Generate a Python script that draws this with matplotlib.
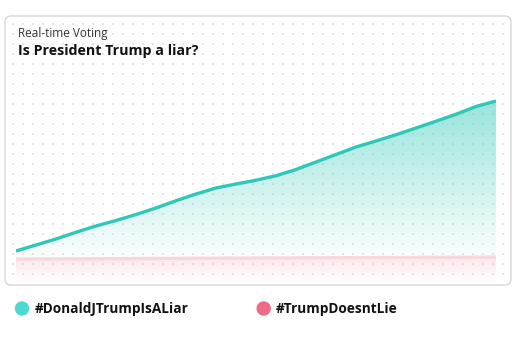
import numpy as np
import matplotlib
matplotlib.use("Agg")
import matplotlib.pyplot as plt
from matplotlib.patches import FancyBboxPatch, Circle
from matplotlib.colors import to_rgb

# ---- data ----
steps = list(range(25))
liar_votes = [1320, 1560, 1800, 2070, 2320, 2540, 2780, 3040, 3330, 3600, 3840, 4000, 4150,
              4330, 4580, 4880, 5180, 5480, 5720, 5970, 6240, 6510, 6790, 7100, 7320]
notliar_votes = [1000, 1004, 1007, 1010, 1012, 1016, 1020, 1023, 1026, 1030, 1032, 1036, 1040,
                 1043, 1046, 1050, 1053, 1056, 1060, 1062, 1066, 1070, 1073, 1076, 1080]
series_names = ["#DonaldJTrumpIsALiar", "#TrumpDoesntLie"]
subtitle = "Real-time Voting"
title = "Is President Trump a liar?"
y_max = 10000

teal_line = "#2ec8b8"
teal_dot = "#4fd8cf"
pink_line = "#f9d6dc"
pink_dot = "#ee6b87"

W, H = 519, 359
fig = plt.figure(figsize=(W / 100, H / 100), dpi=100)
fig.patch.set_facecolor("white")

# background axes in pixel coordinates
bg = fig.add_axes([0, 0, 1, 1], zorder=0)
bg.set_xlim(0, W)
bg.set_ylim(H, 0)
bg.axis("off")

card = FancyBboxPatch((5, 16), 506, 269, boxstyle="round,pad=0,rounding_size=6",
                      facecolor="white", edgecolor="#d6d6d6", linewidth=1.0)
bg.add_patch(card)

gx = np.arange(12.7, 505, 10)
gy = np.arange(24.3, 280, 10)
GX, GY = np.meshgrid(gx, gy)
bg.scatter(GX.ravel(), GY.ravel(), marker="s", s=2.0, color="#e6e6e6", linewidths=0)

bg.text(18, 37.5, subtitle, fontsize=8.5, family="Open Sans", color="#333333", va="baseline")
bg.text(18, 55, title, fontsize=10.3, family="Open Sans", weight="bold", color="#111111",
        va="baseline")

# legend
leg_x = [22, 263.7]
leg_cols = [teal_dot, pink_dot]
for x0, name, col in zip(leg_x, series_names, leg_cols):
    bg.add_patch(Circle((x0, 308.5), 7.2, facecolor=col, edgecolor="none"))
    bg.text(x0 + 12.3, 312.5, name, fontsize=9.8, family="Open Sans", weight="bold",
            color="#111111", va="baseline")

# main chart axes
ax = fig.add_axes([16 / W, (H - 284) / H, 480 / W, 250 / H], zorder=2)
ax.patch.set_alpha(0)
ax.set_xlim(steps[0], steps[-1])
ax.set_ylim(0, y_max)
ax.axis("off")

x = np.array(steps)
liar = np.array(liar_votes)
notliar = np.array(notliar_votes)

def gradient_fill(ax, x, ylow, yhigh, color, a_top, a_bot, y_top, y_bot):
    poly = ax.fill_between(x, ylow, yhigh, facecolor="none", edgecolor="none")
    n = 256
    yy = np.linspace(y_max, 0, n)
    alpha = np.clip(a_bot + (a_top - a_bot) * (yy - y_bot) / (y_top - y_bot),
                    min(a_top, a_bot), max(a_top, a_bot))
    rgba = np.zeros((n, 1, 4))
    rgba[:, 0, :3] = to_rgb(color)
    rgba[:, 0, 3] = alpha
    im = ax.imshow(rgba, extent=[x[0], x[-1], 0, y_max], aspect="auto", origin="upper",
                   zorder=1, interpolation="bilinear")
    im.set_clip_path(poly.get_paths()[0], transform=ax.transData)

gradient_fill(ax, x, notliar, liar, teal_line, 0.5, 0.0, 7400, 800)
gradient_fill(ax, x, np.zeros_like(notliar), notliar, "#f7b5c2", 0.3, 0.0, 1000, 0)

ax.plot(x, notliar, color=pink_line, lw=2.3, solid_capstyle="butt", zorder=3)
ax.plot(x, liar, color=teal_line, lw=2.4, solid_capstyle="butt", zorder=4)

fig.savefig("out.png", dpi=100, facecolor="white")
